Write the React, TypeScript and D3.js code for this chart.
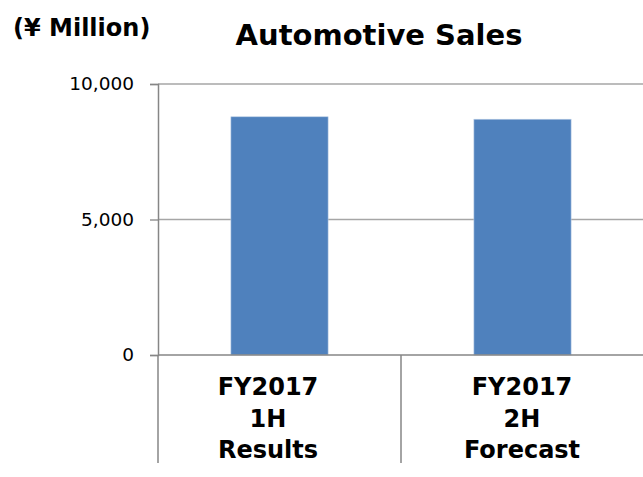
import React, { useEffect, useRef } from "react";
import * as d3 from "d3";

const categories = [
  ["FY2017", "1H", "Results"],
  ["FY2017", "2H", "Forecast"],
];
const sales = [8790, 8700];
const yTicks = [0, 5000, 10000];

const FONT = "'DejaVu Sans', Verdana, sans-serif";

const App = () => {
  const svgRef = useRef<SVGSVGElement>(null);

  useEffect(() => {
    const svg = d3.select(svgRef.current);
    svg.selectAll("*").remove();

    const left = 158;
    const right = 644;
    const top = 84;
    const bottom = 355;

    const x = d3
      .scaleBand<number>()
      .domain(categories.map((_, i) => i))
      .range([left, right])
      .padding(0);

    // label slots are a little wider than the plot bands (Excel-style layout)
    const xLabel = d3
      .scaleBand<number>()
      .domain(categories.map((_, i) => i))
      .range([left - 17, right + 5])
      .padding(0);

    const y = d3.scaleLinear().domain([0, 10000]).range([bottom, top]);

    // gridlines
    svg
      .append("g")
      .selectAll("line")
      .data(yTicks.filter((t) => t > 0))
      .enter()
      .append("line")
      .attr("x1", left)
      .attr("x2", right)
      .attr("y1", (d) => y(d))
      .attr("y2", (d) => y(d))
      .attr("stroke", "#a6a6a6")
      .attr("stroke-width", 1.3);

    // bars
    const barW = x.bandwidth() * 0.4;
    svg
      .append("g")
      .selectAll("rect")
      .data(sales)
      .enter()
      .append("rect")
      .attr("x", (_, i) => x(i)! + (x.bandwidth() - barW) / 2)
      .attr("y", (d) => y(d))
      .attr("width", barW)
      .attr("height", (d) => y(0) - y(d))
      .attr("fill", "#4f81bd")
      .attr("stroke", "#b9cde5")
      .attr("stroke-width", 0.6);

    // y axis
    const yAxis = svg
      .append("g")
      .attr("transform", `translate(${left},0)`)
      .call(d3.axisLeft(y).tickValues(yTicks).tickSize(8).tickPadding(16).tickFormat(d3.format(",")));
    yAxis.select(".domain").attr("stroke", "#868686").attr("stroke-width", 1.5);
    yAxis.selectAll(".tick line").attr("stroke", "#868686").attr("stroke-width", 1.3);
    yAxis
      .selectAll(".tick text")
      .attr("font-family", FONT)
      .attr("font-size", 18.5)
      .attr("fill", "#000");

    // x axis baseline and category dividers
    svg
      .append("line")
      .attr("x1", left)
      .attr("x2", right)
      .attr("y1", bottom)
      .attr("y2", bottom)
      .attr("stroke", "#868686")
      .attr("stroke-width", 1.5);

    const dividers = [...categories.map((_, i) => x(i)!), right];
    svg
      .append("g")
      .selectAll("line")
      .data(dividers)
      .enter()
      .append("line")
      .attr("x1", (d) => d)
      .attr("x2", (d) => d)
      .attr("y1", bottom)
      .attr("y2", 463)
      .attr("stroke", "#868686")
      .attr("stroke-width", 1.5);

    // category labels
    const labels = svg
      .append("g")
      .selectAll("text")
      .data(categories)
      .enter()
      .append("text")
      .attr("x", (_, i) => xLabel(i)! + xLabel.bandwidth() / 2)
      .attr("y", 395)
      .attr("text-anchor", "middle")
      .attr("font-family", FONT)
      .attr("font-weight", "bold")
      .attr("font-size", 24)
      .attr("fill", "#000");
    labels
      .selectAll("tspan")
      .data((d) => d)
      .enter()
      .append("tspan")
      .attr("x", function () {
        return (this as SVGTSpanElement).parentElement!.getAttribute("x");
      })
      .attr("dy", (_, i) => (i === 0 ? 0 : 31.5))
      .text((d) => d);

    // title and unit
    svg
      .append("text")
      .attr("x", 379)
      .attr("y", 45)
      .attr("text-anchor", "middle")
      .attr("font-family", FONT)
      .attr("font-weight", "bold")
      .attr("font-size", 29)
      .attr("fill", "#000")
      .text("Automotive Sales");

    svg
      .append("text")
      .attr("x", 13)
      .attr("y", 36)
      .attr("font-family", FONT)
      .attr("font-weight", "bold")
      .attr("font-size", 24)
      .attr("fill", "#000")
      .text("(¥ Million)");
  }, []);

  return (
    <svg
      ref={svgRef}
      width={643}
      height={477}
      style={{ position: "absolute", left: 0, top: 0, background: "#fff" }}
    />
  );
};

export default App;
